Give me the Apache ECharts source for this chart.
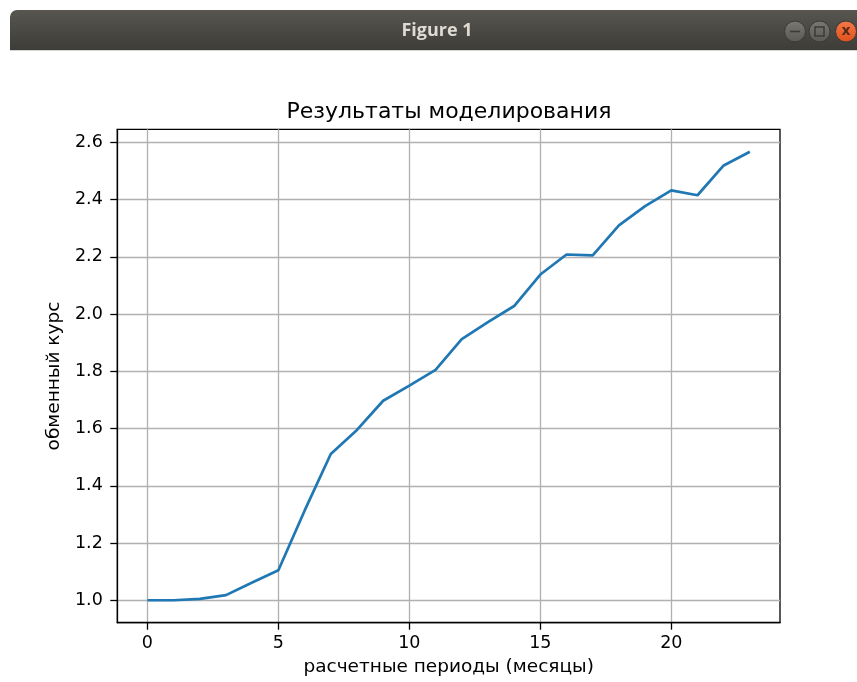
<!DOCTYPE html>
<html>
<head>
<meta charset="utf-8">
<title>Результаты моделирования</title>
<script src="https://cdn.jsdelivr.net/npm/echarts@6/dist/echarts.min.js"></script>
<style>
  html, body { margin: 0; padding: 0; background: #ffffff; }
  #chart { width: 857px; height: 682px; }
</style>
</head>
<body>
<div id="chart"></div>
<script>
// Simulated exchange rate per settlement period (months)
const periods = [0, 1, 2, 3, 4, 5, 6, 7, 8, 9, 10, 11, 12, 13, 14, 15, 16, 17, 18, 19, 20, 21, 22, 23];
const rate = [1.000, 1.000, 1.005, 1.018, 1.062, 1.105, 1.313, 1.511, 1.595, 1.697, 1.750, 1.805,
              1.912, 1.972, 2.028, 2.138, 2.208, 2.205, 2.310, 2.377, 2.432, 2.415, 2.519, 2.567];

// Tick positions on both axes
const xTicks = [0, 5, 10, 15, 20];
const yTicks = [1.0, 1.2, 1.4, 1.6, 1.8, 2.0, 2.2, 2.4, 2.6];

const chartTitle = 'Результаты моделирования';
const xLabel = 'расчетные периоды (месяцы)';
const yLabel = 'обменный курс';
const windowTitle = 'Figure 1';

// Axis limits with a 5% margin around the data
const xMinData = Math.min(...periods), xMaxData = Math.max(...periods);
const yMinData = Math.min(...rate), yMaxData = Math.max(...rate);
const xPad = (xMaxData - xMinData) * 0.05;
const yPad = (yMaxData - yMinData) * 0.05;

const FONT = '"DejaVu Sans", "Liberation Sans", sans-serif';

const chart = echarts.init(document.getElementById('chart'), null, { renderer: 'canvas' });

const axisCommon = {
  type: 'value',
  axisLine: { show: true, onZero: false, lineStyle: { color: '#000', width: 1.3 } },
  axisTick: { show: true, inside: false, length: 7, lineStyle: { color: '#000', width: 1.3 } },
  splitLine: { show: true, lineStyle: { color: '#b0b0b0', width: 1.3 } },
  axisLabel: { color: '#000', fontFamily: FONT, fontSize: 17.5 },
  nameLocation: 'middle',
  nameTextStyle: { color: '#000', fontFamily: FONT, fontSize: 18.5 }
};

chart.setOption({
  animation: false,
  backgroundColor: '#ffffff',
  title: {
    text: chartTitle,
    left: 444,
    top: 96,
    textAlign: 'center',
    textStyle: { fontFamily: FONT, fontSize: 22, fontWeight: 'normal', color: '#000' }
  },
  grid: {
    left: 117.3, right: 77, top: 129.3, bottom: 59.3,
    show: true, borderColor: '#000', borderWidth: 1.3, backgroundColor: 'transparent'
  },
  xAxis: Object.assign({}, axisCommon, {
    min: xMinData - xPad,
    max: xMaxData + xPad,
    name: xLabel,
    nameGap: 34.5,
    axisTick: Object.assign({}, axisCommon.axisTick, { customValues: xTicks }),
    axisLabel: Object.assign({}, axisCommon.axisLabel, {
      customValues: xTicks,
      margin: 12,
      formatter: v => String(Math.round(v))
    })
  }),
  yAxis: Object.assign({}, axisCommon, {
    min: yMinData - yPad,
    max: yMaxData + yPad,
    name: yLabel,
    nameGap: 50,
    axisTick: Object.assign({}, axisCommon.axisTick, { customValues: yTicks }),
    axisLabel: Object.assign({}, axisCommon.axisLabel, {
      customValues: yTicks,
      margin: 14.5,
      formatter: v => v.toFixed(1)
    })
  }),
  series: [{
    type: 'line',
    data: periods.map((p, i) => [p, rate[i]]),
    showSymbol: false,
    symbol: 'none',
    lineStyle: { color: '#1f77b4', width: 2.7 },
    z: 3
  }],
  graphic: [
    // window title bar
    {
      type: 'rect',
      shape: { x: 10, y: 10, width: 860, height: 40, r: [7, 7, 0, 0] },
      style: {
        fill: new echarts.graphic.LinearGradient(0, 0, 0, 1, [
          { offset: 0, color: '#58564f' },
          { offset: 1, color: '#3d3c38' }
        ])
      },
      silent: true
    },
    {
      type: 'line',
      shape: { x1: 10, y1: 50.5, x2: 857, y2: 50.5 },
      style: { stroke: '#d6d5d0', lineWidth: 1 },
      silent: true
    },
    {
      type: 'text',
      style: {
        text: windowTitle, x: 437, y: 31, align: 'center', verticalAlign: 'middle',
        fill: '#dfdbd2', font: 'bold 18px "Open Sans", "DejaVu Sans", sans-serif'
      },
      silent: true
    },
    // minimize button
    {
      type: 'circle',
      shape: { cx: 795, cy: 31.5, r: 10.5 },
      style: {
        fill: new echarts.graphic.LinearGradient(0, 0, 0, 1, [
          { offset: 0, color: '#7a7873' }, { offset: 1, color: '#5a5954' }
        ]),
        stroke: '#3a3935', lineWidth: 1
      },
      silent: true
    },
    {
      type: 'line',
      shape: { x1: 790, y1: 31.5, x2: 800, y2: 31.5 },
      style: { stroke: '#3c3b37', lineWidth: 1.6 },
      silent: true
    },
    // maximize button
    {
      type: 'circle',
      shape: { cx: 819.5, cy: 31.5, r: 10.5 },
      style: {
        fill: new echarts.graphic.LinearGradient(0, 0, 0, 1, [
          { offset: 0, color: '#7a7873' }, { offset: 1, color: '#5a5954' }
        ]),
        stroke: '#3a3935', lineWidth: 1
      },
      silent: true
    },
    {
      type: 'rect',
      shape: { x: 815, y: 27, width: 9, height: 9 },
      style: { fill: 'none', stroke: '#3c3b37', lineWidth: 1.5 },
      silent: true
    },
    // close button
    {
      type: 'circle',
      shape: { cx: 846, cy: 31.5, r: 10.5 },
      style: {
        fill: new echarts.graphic.LinearGradient(0, 0, 0, 1, [
          { offset: 0, color: '#f47a4a' }, { offset: 1, color: '#e0501c' }
        ]),
        stroke: '#3a3935', lineWidth: 1
      },
      silent: true
    },
    {
      type: 'text',
      style: {
        text: 'x', x: 846, y: 31, align: 'center', verticalAlign: 'middle',
        fill: '#5a2a15', font: 'bold 14px "DejaVu Sans", sans-serif'
      },
      silent: true
    }
  ]
});
</script>
</body>
</html>
